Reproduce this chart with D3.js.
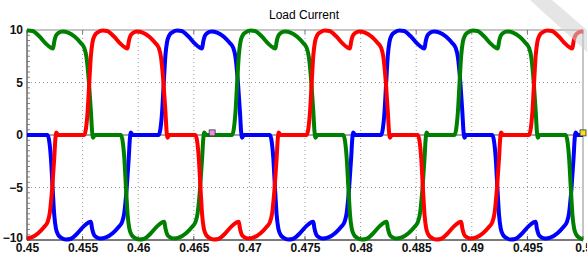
<!DOCTYPE html>
<html>
<head>
<meta charset="utf-8">
<script src="https://cdn.jsdelivr.net/npm/d3@7"></script>
<style>
  body { margin: 0; background: #fff; }
  text { font-family: "Liberation Sans", Arial, sans-serif; }
</style>
</head>
<body>
<div class="chart"></div>
<script>
// one current pulse: ms from the mid-point of the rising edge, amps
var pulseT = [-0.45, -0.3, -0.15, 0, 0.15, 0.3, 0.5, 0.8, 1.2, 1.6, 2.2, 2.8, 3.2, 3.45, 3.55, 3.7, 3.9, 4.3, 4.8, 5.4, 5.9, 6.25, 6.45, 6.67, 6.85, 6.95, 7.05, 7.2];
var pulseI = [0, 0.6, 2.2, 5, 7.6, 8.9, 9.5, 9.8, 9.95, 9.9, 9.4, 8.7, 8.35, 8.25, 8.9, 9.45, 9.7, 9.85, 9.75, 9.35, 8.8, 8.3, 7.4, 5, 2.2, 0.4, -0.25, 0];

// where each phase starts a pulse (s) and its sign
var redStarts = [0.4456, 0.4556, 0.4656, 0.4756, 0.4856, 0.4956];
var redSigns = [-1, 1, -1, 1, -1, 1];
var blueStarts = [0.4523, 0.4623, 0.4723, 0.4823, 0.4923];
var blueSigns = [-1, 1, -1, 1, -1];
var greenStarts = [0.4489, 0.4589, 0.4689, 0.4789, 0.4889, 0.4989];
var greenSigns = [1, -1, 1, -1, 1, -1];

var xTicks = [0.45, 0.455, 0.46, 0.465, 0.47, 0.475, 0.48, 0.485, 0.49, 0.495, 0.5];
var xLabels = ["0.45", "0.455", "0.46", "0.465", "0.47", "0.475", "0.48", "0.485", "0.49", "0.495", "0.5"];
var yTicks = [-10, -5, 0, 5, 10];

// little data cursor boxes
var markerT = [0.46665, 0.5];
var markerI = [0.2, 0.2];
var markerColors = ["#e88ee8", "#f0e020"];

var width = 587, height = 255;
var plotLeft = 27, plotRight = 583, plotTop = 30, plotBottom = 240;

var x = d3.scaleLinear().domain([0.45, 0.5]).range([plotLeft, plotRight]);
var y = d3.scaleLinear().domain([-10, 10]).range([plotBottom, plotTop]);

function buildPhase(starts, signs) {
    var pts = [];
    starts.forEach(function(s, k) {
        for (let i = 0; i < pulseT.length; i++) {
            pts.push([s + pulseT[i] / 1000, signs[k] * pulseI[i]]);
        }
    });
    if (pts[0][0] > 0.45) pts.unshift([0.45, 0]);
    if (pts[pts.length - 1][0] < 0.5) pts.push([0.5, 0]);
    return pts;
}

var svg = d3.select(".chart").append("svg")
    .attr("width", width)
    .attr("height", height);

svg.append("text")
    .attr("x", 304)
    .attr("y", 19)
    .attr("text-anchor", "middle")
    .attr("font-size", 12)
    .text("Load Current");

// grid
var grid = svg.append("g");
xTicks.slice(1, -1).forEach(function(t) {
    grid.append("line")
        .attr("x1", x(t)).attr("x2", x(t))
        .attr("y1", plotTop).attr("y2", plotBottom)
        .attr("stroke", "#9a9a9a")
        .attr("stroke-dasharray", "1,3");
});
yTicks.slice(1, -1).forEach(function(v) {
    grid.append("line")
        .attr("x1", plotLeft).attr("x2", plotRight)
        .attr("y1", y(v)).attr("y2", y(v))
        .attr("stroke", v == 0 ? "#8a8a8a" : "#9a9a9a")
        .attr("stroke-dasharray", v == 0 ? null : "1,3")
        .attr("stroke-width", v == 0 ? 1.5 : 1);
});

// minor ticks on left
d3.range(-10, 10.01, 0.5).forEach(function(v) {
    svg.append("line")
        .attr("x1", plotLeft).attr("x2", plotLeft + 3)
        .attr("y1", y(v)).attr("y2", y(v))
        .attr("stroke", "#888");
});

// frame
svg.append("rect")
    .attr("x", plotLeft).attr("y", plotTop)
    .attr("width", plotRight - plotLeft).attr("height", plotBottom - plotTop)
    .attr("fill", "none")
    .attr("stroke", "#8c8c8c");
svg.append("line")
    .attr("x1", plotLeft).attr("x2", plotRight)
    .attr("y1", plotBottom).attr("y2", plotBottom)
    .attr("stroke", "#333");
svg.append("line")
    .attr("x1", plotLeft).attr("x2", plotLeft)
    .attr("y1", plotTop).attr("y2", plotBottom)
    .attr("stroke", "#555");

var xAxis = d3.axisBottom(x).tickValues(xTicks).tickSize(0).tickPadding(3)
    .tickFormat(function(d, i) { return xLabels[i]; });
svg.append("g")
    .attr("transform", "translate(0," + plotBottom + ")")
    .call(xAxis)
    .call(function(g) { g.select(".domain").remove(); })
    .selectAll("text")
    .attr("font-size", 12)
    .attr("font-weight", "bold")
    .attr("fill", "#111");

var yAxis = d3.axisLeft(y).tickValues(yTicks).tickSize(0).tickPadding(4);
svg.append("g")
    .attr("transform", "translate(" + plotLeft + ",0)")
    .call(yAxis)
    .call(function(g) { g.select(".domain").remove(); })
    .selectAll("text")
    .attr("font-size", 12)
    .attr("font-weight", "bold")
    .attr("fill", "#111")
    .attr("dy", function(d) { return d == -10 ? "0.1em" : "0.32em"; });

// major ticks on top and bottom edges
xTicks.forEach(function(t) {
    svg.append("line").attr("x1", x(t)).attr("x2", x(t)).attr("y1", plotTop).attr("y2", plotTop + 4).attr("stroke", "#777");
    svg.append("line").attr("x1", x(t)).attr("x2", x(t)).attr("y1", plotBottom).attr("y2", plotBottom - 4).attr("stroke", "#555");
});

svg.append("clipPath").attr("id", "plotclip")
    .append("rect")
    .attr("x", plotLeft).attr("y", plotTop - 2)
    .attr("width", plotRight - plotLeft).attr("height", plotBottom - plotTop + 4);

var line = d3.line()
    .x(function(d) { return x(d[0]); })
    .y(function(d) { return y(d[1]); })
    .curve(d3.curveMonotoneX);

var phases = [
    { pts: buildPhase(blueStarts, blueSigns), color: "#0000ff" },
    { pts: buildPhase(greenStarts, greenSigns), color: "#008000" },
    { pts: buildPhase(redStarts, redSigns), color: "#ff0000" }
];

var plot = svg.append("g").attr("clip-path", "url(#plotclip)");
phases.forEach(function(p) {
    plot.append("path")
        .datum(p.pts)
        .attr("d", line)
        .attr("fill", "none")
        .attr("stroke", p.color)
        .attr("stroke-width", 4)
        .attr("stroke-linejoin", "round")
        .attr("stroke-linecap", "round");
});

markerT.forEach(function(t, i) {
    svg.append("rect")
        .attr("x", x(t) - 3).attr("y", y(markerI[i]) - 3)
        .attr("width", 6).attr("height", 6)
        .attr("fill", markerColors[i])
        .attr("stroke", "#333")
        .attr("stroke-width", 0.8);
});

// faint watermark in the corner
svg.append("polygon")
    .attr("points", "530,0 552,0 587,30 587,52")
    .attr("fill", "#cfcfcf")
    .attr("opacity", 0.55);
</script>
</body>
</html>
